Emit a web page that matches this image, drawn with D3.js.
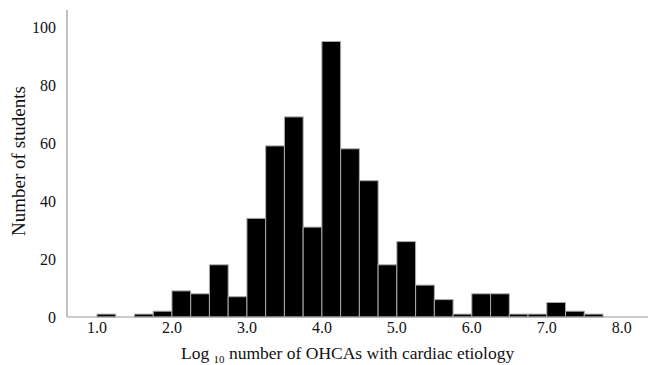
<!DOCTYPE html>
<html>
<head>
  <script src="https://d3js.org/d3.v7.min.js"></script>
  <style>
    body { margin: 0; background: #fff; }
  </style>
</head>
<body>
  <svg id="chart"></svg>
  <script>
    // bin starts (log10 scale), width 0.25
    const binStarts = [1.0, 1.25, 1.5, 1.75, 2.0, 2.25, 2.5, 2.75, 3.0, 3.25, 3.5, 3.75,
                       4.0, 4.25, 4.5, 4.75, 5.0, 5.25, 5.5, 5.75, 6.0, 6.25, 6.5, 6.75,
                       7.0, 7.25, 7.5];
    const counts = [1, 0, 1, 2, 9, 8, 18, 7, 34, 59, 69, 31,
                    95, 58, 47, 18, 26, 11, 6, 1, 8, 8, 1, 1,
                    5, 2, 1];
    const binWidth = 0.25;
    const xTicks = [1, 2, 3, 4, 5, 6, 7, 8];
    const yTicks = [0, 20, 40, 60, 80, 100];

    const W = 649, H = 365;
    const FONT = "Liberation Serif";
    const svg = d3.select("#chart").attr("width", W).attr("height", H);

    const x = d3.scaleLinear().domain([0.6, 8.35]).range([67, 648]);
    const y = d3.scaleLinear().domain([0, 100]).range([317, 27]);

    // Bars
    svg.selectAll("rect.bar")
       .data(binStarts.map((s, i) => ({ s, c: counts[i] })).filter(d => d.c > 0))
       .enter()
       .append("rect")
       .attr("class", "bar")
       .attr("x", d => x(d.s))
       .attr("width", d => x(d.s + binWidth) - x(d.s))
       .attr("y", d => y(d.c))
       .attr("height", d => y(0) - y(d.c))
       .attr("fill", "#000")
       .attr("stroke", "#aaa")
       .attr("stroke-width", 1);

    // Axes lines
    svg.append("line")
       .attr("x1", 67).attr("x2", 67).attr("y1", 10).attr("y2", y(0))
       .attr("stroke", "#999").attr("stroke-width", 1.2);
    svg.append("line")
       .attr("x1", 67).attr("x2", 648).attr("y1", y(0)).attr("y2", y(0))
       .attr("stroke", "#999").attr("stroke-width", 1.2);

    // Y tick labels
    svg.selectAll("text.ytick")
       .data(yTicks)
       .enter()
       .append("text")
       .attr("class", "ytick")
       .attr("x", 56)
       .attr("y", d => y(d) + 5.5)
       .attr("text-anchor", "end")
       .attr("font-family", FONT)
       .attr("font-size", 16)
       .attr("fill", "#111")
       .text(d => d);

    // X tick labels
    svg.selectAll("text.xtick")
       .data(xTicks)
       .enter()
       .append("text")
       .attr("class", "xtick")
       .attr("x", d => x(d))
       .attr("y", 333)
       .attr("text-anchor", "middle")
       .attr("font-family", FONT)
       .attr("font-size", 16)
       .attr("fill", "#111")
       .text(d => d.toFixed(1));

    // Axis titles
    svg.append("text")
       .attr("transform", "translate(25,161) rotate(-90)")
       .attr("text-anchor", "middle")
       .attr("font-family", FONT)
       .attr("font-size", 19)
       .attr("fill", "#111")
       .text("Number of students");

    const xt = svg.append("text")
       .attr("x", 181)
       .attr("y", 359)
       .attr("text-anchor", "start")
       .attr("font-family", FONT)
       .attr("font-size", 17.5)
       .attr("fill", "#111");
    xt.append("tspan").text("Log ");
    xt.append("tspan").attr("font-size", 11).attr("dy", 4).text("10");
    xt.append("tspan").attr("dy", -4).text(" number of OHCAs with cardiac etiology");
  </script>
</body>
</html>
